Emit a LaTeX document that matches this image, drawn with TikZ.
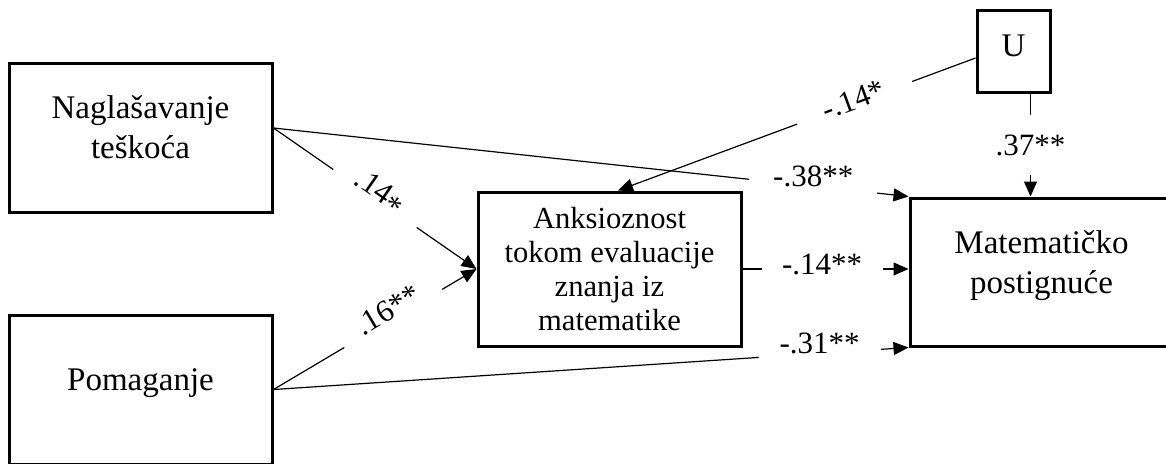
\documentclass[tikz,border=0pt]{standalone}
\usepackage{fontspec}
\setmainfont{Liberation Serif}
\usetikzlibrary{arrows.meta}

\begin{document}
\begin{tikzpicture}[x=0.5pt, y=-0.5pt, >={Triangle[length=7.5pt, width=6.5pt]},
    okvir/.style={draw, line width=1.5pt, align=center, font=\fontsize{16.5}{20}\selectfont},
    veza/.style={->, line width=0.6pt},
    koef/.style={fill=white, inner ysep=4.5pt, font=\fontsize{15.5}{18}\selectfont}]
    \useasboundingbox (0,0) rectangle (1166,463);

    % Okviri
    \node[okvir, minimum width=131.5pt, minimum height=74.5pt, text depth=10pt] (N) at (140.5,137.5) {Naglašavanje\\teškoća};
    \node[okvir, minimum width=131.5pt, minimum height=74.5pt, text depth=10pt] (P) at (140.5,389.5) {Pomaganje};
    \node[okvir, minimum width=131.5pt, minimum height=77pt, font=\fontsize{15.3}{16.9}\selectfont] (A) at (609.5,269) {Anksioznost\\tokom evaluacije\\znanja iz\\matematike};
    \node[okvir, minimum width=131.5pt, minimum height=74pt, text depth=10pt] (M) at (1041.5,272) {Matematičko\\postignuće};
    \node[okvir, minimum width=36.5pt, minimum height=41pt, text depth=5pt] (U) at (1013.5,51) {U};
    \coordinate (Udno) at ([xshift=8.5pt]U.south);

    % Putanje
    \draw[veza] ([yshift=4.75pt]N.east) -- (A.west)
        node[koef, pos=0.5, sloped, anchor=base, inner xsep=11.75pt, inner ysep=3pt] {.14\raisebox{-0.45ex}{*}};
    \draw[veza] (P.east) -- (A.west)
        node[koef, pos=0.59, sloped, anchor=base, inner xsep=11pt, inner ysep=3pt] {.16**};
    \draw[veza] ([yshift=4.75pt]N.east) -- (M.north west)
        node[koef, pos=0.85, anchor=base, inner xsep=12pt] {-.38**};
    \draw[veza] (A.east) -- (A.east -| M.west)
        node[koef, pos=0.48, anchor=base, yshift=-2.5pt, inner xsep=10.25pt] {-.14**};
    \draw[veza] (P.east) -- (M.south west)
        node[koef, pos=0.86, anchor=base, inner xsep=10.5pt] {-.31**};
    \draw[veza] ([yshift=-3.5pt]U.west) -- ([xshift=4.25pt]A.north)
        node[koef, pos=0.338, sloped, anchor=base, yshift=-3.5pt, inner xsep=14.5pt, inner ysep=3pt] {-.14*};
    \draw[veza] (Udno) -- (Udno |- M.north)
        node[koef, midway, inner xsep=2pt, inner ysep=10pt] {.37**};
\end{tikzpicture}
\end{document}
